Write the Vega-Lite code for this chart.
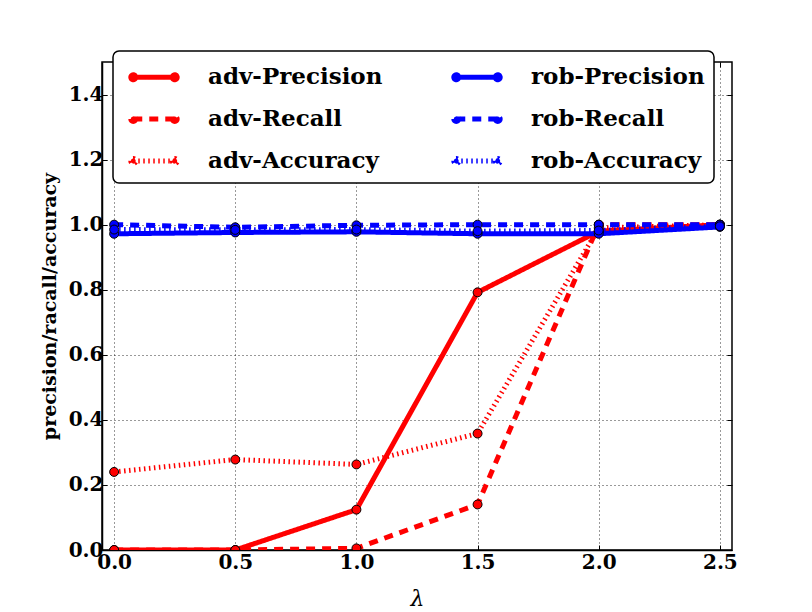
{
  "$schema": "https://vega.github.io/schema/vega-lite/v6.json",
  "width": 630,
  "height": 488,
  "autosize": "none",
  "padding": {"left": 102, "top": 62, "right": 80, "bottom": 62},
  "background": "white",
  "data": {
    "values": [
      {"lam": 0.0, "value": 0.0, "series": "adv-Precision"},
      {"lam": 0.5, "value": 0.0, "series": "adv-Precision"},
      {"lam": 1.0, "value": 0.124, "series": "adv-Precision"},
      {"lam": 1.5, "value": 0.792, "series": "adv-Precision"},
      {"lam": 2.0, "value": 0.98, "series": "adv-Precision"},
      {"lam": 2.5, "value": 1.0, "series": "adv-Precision"},
      {"lam": 0.0, "value": 0.0, "series": "adv-Recall"},
      {"lam": 0.5, "value": 0.0, "series": "adv-Recall"},
      {"lam": 1.0, "value": 0.005, "series": "adv-Recall"},
      {"lam": 1.5, "value": 0.14, "series": "adv-Recall"},
      {"lam": 2.0, "value": 1.0, "series": "adv-Recall"},
      {"lam": 2.5, "value": 1.0, "series": "adv-Recall"},
      {"lam": 0.0, "value": 0.24, "series": "adv-Accuracy"},
      {"lam": 0.5, "value": 0.278, "series": "adv-Accuracy"},
      {"lam": 1.0, "value": 0.263, "series": "adv-Accuracy"},
      {"lam": 1.5, "value": 0.358, "series": "adv-Accuracy"},
      {"lam": 2.0, "value": 0.99, "series": "adv-Accuracy"},
      {"lam": 2.5, "value": 1.0, "series": "adv-Accuracy"},
      {"lam": 0.0, "value": 0.972, "series": "rob-Precision"},
      {"lam": 0.5, "value": 0.976, "series": "rob-Precision"},
      {"lam": 1.0, "value": 0.978, "series": "rob-Precision"},
      {"lam": 1.5, "value": 0.972, "series": "rob-Precision"},
      {"lam": 2.0, "value": 0.972, "series": "rob-Precision"},
      {"lam": 2.5, "value": 0.993, "series": "rob-Precision"},
      {"lam": 0.0, "value": 1.0, "series": "rob-Recall"},
      {"lam": 0.5, "value": 0.992, "series": "rob-Recall"},
      {"lam": 1.0, "value": 0.998, "series": "rob-Recall"},
      {"lam": 1.5, "value": 1.0, "series": "rob-Recall"},
      {"lam": 2.0, "value": 1.0, "series": "rob-Recall"},
      {"lam": 2.5, "value": 1.0, "series": "rob-Recall"},
      {"lam": 0.0, "value": 0.985, "series": "rob-Accuracy"},
      {"lam": 0.5, "value": 0.984, "series": "rob-Accuracy"},
      {"lam": 1.0, "value": 0.985, "series": "rob-Accuracy"},
      {"lam": 1.5, "value": 0.98, "series": "rob-Accuracy"},
      {"lam": 2.0, "value": 0.982, "series": "rob-Accuracy"},
      {"lam": 2.5, "value": 0.995, "series": "rob-Accuracy"}
    ]
  },
  "layer": [
    {
      "mark": {"type": "line", "strokeWidth": 5, "clip": true},
      "encoding": {
        "x": {
          "field": "lam",
          "type": "quantitative",
          "scale": {"domain": [-0.05, 2.55], "nice": false, "zero": false},
          "axis": {
            "values": [0, 0.5, 1, 1.5, 2, 2.5],
            "format": ".1f",
            "title": "λ",
            "titleFont": "DejaVu Serif",
            "titleFontStyle": "italic",
            "titleFontWeight": "normal",
            "titleFontSize": 22,
            "titlePadding": 16,
            "labelPadding": 7
          }
        },
        "y": {
          "field": "value",
          "type": "quantitative",
          "scale": {"domain": [0, 1.5], "nice": false},
          "axis": {
            "values": [0, 0.2, 0.4, 0.6, 0.8, 1.0, 1.2, 1.4],
            "format": ".1f",
            "title": "precision/racall/accuracy",
            "titleFont": "DejaVu Serif",
            "titleFontWeight": "bold",
            "titleFontSize": 19,
            "titlePadding": 9,
            "labelPadding": 4
          }
        },
        "color": {
          "field": "series",
          "type": "nominal",
          "scale": {
            "domain": ["adv-Precision", "adv-Recall", "adv-Accuracy", "rob-Precision", "rob-Recall", "rob-Accuracy"],
            "range": ["#ff0000", "#ff0000", "#ff0000", "#0000ff", "#0000ff", "#0000ff"]
          },
          "legend": {
            "orient": "none",
            "legendX": 11,
            "legendY": -11,
            "columns": 2,
            "title": null,
            "symbolType": "M-1.43,0H1.43M-1.6,0a0.17,0.17 0 1,0 0.34,0a0.17,0.17 0 1,0 -0.34,0M1.26,0a0.17,0.17 0 1,0 0.34,0a0.17,0.17 0 1,0 -0.34,0",
            "symbolSize": 841,
            "symbolStrokeWidth": 5,
            "symbolOpacity": 1,
            "symbolOffset": 15,
            "encode": {
              "symbols": {"update": {"fill": {"scale": "color", "field": "value"}}}
            }
          }
        },
        "strokeDash": {
          "field": "series",
          "type": "nominal",
          "scale": {
            "domain": ["adv-Precision", "adv-Recall", "adv-Accuracy", "rob-Precision", "rob-Recall", "rob-Accuracy"],
            "range": [[1, 0], [9, 7], [1.5, 3.5], [1, 0], [9, 7], [1.5, 3.5]]
          },
          "legend": {
            "orient": "none",
            "legendX": 11,
            "legendY": -11,
            "columns": 2,
            "title": null
          }
        }
      }
    },
    {
      "mark": {"type": "point", "filled": true, "size": 80, "stroke": "black", "strokeWidth": 1, "opacity": 1, "clip": true},
      "encoding": {
        "x": {
          "field": "lam",
          "type": "quantitative",
          "axis": {"orient": "top", "labels": false, "title": null, "grid": false, "domain": false, "values": [0, 0.5, 1, 1.5, 2, 2.5]}
        },
        "y": {
          "field": "value",
          "type": "quantitative",
          "axis": {"orient": "right", "labels": false, "title": null, "grid": false, "domain": false, "values": [0, 0.2, 0.4, 0.6, 0.8, 1.0, 1.2, 1.4]}
        },
        "color": {"field": "series", "type": "nominal", "legend": null}
      }
    }
  ],
  "resolve": {"axis": {"x": "independent", "y": "independent"}},
  "config": {
    "view": {"stroke": "black", "strokeWidth": 1.5},
    "axis": {
      "domainColor": "black",
      "domainWidth": 1.5,
      "tickColor": "black",
      "tickWidth": 1,
      "tickSize": -5,
      "labelFont": "DejaVu Serif",
      "labelFontWeight": "bold",
      "labelFontSize": 20,
      "labelColor": "black",
      "titleColor": "black",
      "gridColor": "black",
      "gridDash": [1, 3],
      "gridOpacity": 0.8,
      "gridWidth": 1
    },
    "legend": {
      "fillColor": "white",
      "strokeColor": "black",
      "strokeWidth": 1.5,
      "cornerRadius": 6,
      "padding": 9,
      "labelFont": "DejaVu Serif",
      "labelFontWeight": "bold",
      "labelFontSize": 23,
      "labelColor": "black",
      "labelLimit": 0,
      "labelOffset": 37,
      "rowPadding": 12,
      "columnPadding": 60
    }
  }
}
